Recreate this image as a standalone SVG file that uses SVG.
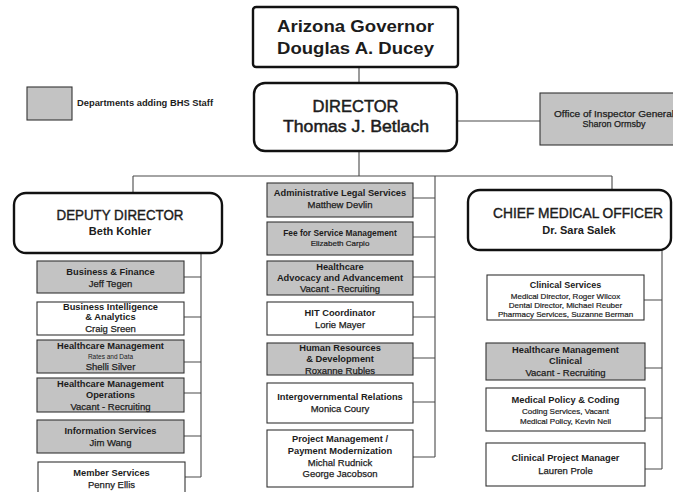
<svg xmlns="http://www.w3.org/2000/svg" width="673" height="492" viewBox="0 0 673 492">
<style>
text{font-family:"Liberation Sans",Arial,sans-serif;fill:#1c1c1c;text-anchor:middle;dominant-baseline:central}
.b{font-weight:bold}
.t{font-size:9.3px;font-weight:bold}
.n{font-size:9.5px;stroke:#1c1c1c;stroke-width:0.25}
.s{font-size:8px;stroke:#1c1c1c;stroke-width:0.2}
.h{stroke:#1c1c1c;stroke-width:0.5}
.box{fill:#fff;stroke:#333;stroke-width:1.1}
.g{fill:#c3c3c3;stroke:#333;stroke-width:1.1}
.big{fill:#fff;stroke:#111;stroke-width:2.4}
.c{fill:none;stroke:#4a4a4a;stroke-width:1.1}
</style>
<rect width="673" height="492" fill="#fff"/>
<g id="connectors">
<path class="c" d="M359 67V83M359 151V176M133 176H612M133 176V193M612 176V190M457 121H540"/>
<path class="c" d="M201 253V477M184 277H201M184 317H201M184 362H201M184 393H201M184 436H201M185 477H201"/>
<path class="c" d="M435 176V457M413 198H435M413 237H435M413 277H435M413 317H435M413 358H435M413 402H435M413 457H435"/>
<path class="c" d="M662 250V469M644 300H662M645 368H662M645 418H662M645 469H662"/>
</g>
<g id="legend">
<rect class="g" x="27" y="87" width="45" height="33"/>
<text x="77" y="103" class="b" style="font-size:9px;text-anchor:start" textLength="136" lengthAdjust="spacingAndGlyphs">Departments adding BHS Staff</text>
</g>
<g id="governor">
<rect class="big" x="253" y="7" width="205" height="60" rx="3"/>
<text x="355.5" y="26" class="b" style="font-size:17px" textLength="157" lengthAdjust="spacingAndGlyphs">Arizona Governor</text>
<text x="355.5" y="48" class="b" style="font-size:17px" textLength="157" lengthAdjust="spacingAndGlyphs">Douglas A. Ducey</text>
</g>
<g id="director">
<rect class="big" x="254" y="83" width="203" height="68" rx="11"/>
<text x="355.5" y="106" class="h" style="font-size:17px" textLength="86" lengthAdjust="spacingAndGlyphs">DIRECTOR</text>
<text x="356" y="126" class="h" style="font-size:17px" textLength="146" lengthAdjust="spacingAndGlyphs">Thomas J. Betlach</text>
</g>
<g id="oig">
<rect class="g" x="540" y="93" width="150" height="52"/>
<text x="614" y="113" class="n" style="font-size:9.5px" textLength="120" lengthAdjust="spacingAndGlyphs">Office of Inspector General</text>
<text x="614" y="124" class="n" style="font-size:9px">Sharon Ormsby</text>
</g>
<g id="deputy">
<rect class="big" x="14" y="193" width="208" height="60" rx="12"/>
<text x="120" y="215" class="h" style="font-size:14px;stroke-width:0.4" textLength="127" lengthAdjust="spacingAndGlyphs">DEPUTY DIRECTOR</text>
<text x="120" y="231" class="b" style="font-size:11px">Beth Kohler</text>
</g>
<g id="cmo">
<rect class="big" x="468" y="190" width="203" height="60" rx="12"/>
<text x="578" y="213" class="h" style="font-size:14px;stroke-width:0.4" textLength="170" lengthAdjust="spacingAndGlyphs">CHIEF MEDICAL OFFICER</text>
<text x="579" y="230" class="b" style="font-size:11px">Dr. Sara Salek</text>
</g>
<g id="business-finance">
<rect class="g" x="37" y="261" width="147" height="32"/>
<text x="110.5" y="272" class="t">Business &amp; Finance</text>
<text x="110.5" y="283" class="n">Jeff Tegen</text>
</g>
<g id="business-intelligence">
<rect class="box" x="37" y="302" width="147" height="33"/>
<text x="110.5" y="307" class="t">Business Intelligence</text>
<text x="110.5" y="317" class="t">&amp; Analytics</text>
<text x="110.5" y="328" class="n">Craig Sreen</text>
</g>
<g id="hm-rates">
<rect class="g" x="37" y="340" width="147" height="33"/>
<text x="110.5" y="346" class="t">Healthcare Management</text>
<text x="110.5" y="356.5" style="font-size:6.5px">Rates and Data</text>
<text x="110.5" y="366" class="n">Shelli Silver</text>
</g>
<g id="hm-operations">
<rect class="g" x="37" y="378" width="147" height="34"/>
<text x="110.5" y="384" class="t">Healthcare Management</text>
<text x="110.5" y="395" class="t">Operations</text>
<text x="110.5" y="406" class="n">Vacant - Recruiting</text>
</g>
<g id="information-services">
<rect class="g" x="37" y="420" width="147" height="33"/>
<text x="110.5" y="431" class="t">Information Services</text>
<text x="110.5" y="442" class="n">Jim Wang</text>
</g>
<g id="member-services">
<rect class="box" x="38" y="462" width="147" height="40"/>
<text x="111.5" y="473" class="t">Member Services</text>
<text x="111.5" y="484" class="n">Penny Ellis</text>
</g>
<g id="admin-legal">
<rect class="g" x="267" y="183" width="146" height="34"/>
<text x="340" y="193" class="t">Administrative Legal Services</text>
<text x="340" y="204" class="n">Matthew Devlin</text>
</g>
<g id="ffs">
<rect class="g" x="267" y="222" width="146" height="33"/>
<text x="340" y="233" class="b" style="font-size:8.4px">Fee for Service Management</text>
<text x="340" y="243" class="s">Elizabeth Carpio</text>
</g>
<g id="hc-advocacy">
<rect class="g" x="267" y="261" width="146" height="34"/>
<text x="340" y="267" class="t">Healthcare</text>
<text x="340" y="278" class="t">Advocacy and Advancement</text>
<text x="340" y="288" class="n">Vacant - Recruiting</text>
</g>
<g id="hit">
<rect class="box" x="267" y="302" width="146" height="33"/>
<text x="340" y="313" class="t">HIT Coordinator</text>
<text x="340" y="324" class="n">Lorie Mayer</text>
</g>
<g id="hr">
<rect class="g" x="267" y="343" width="146" height="32"/>
<text x="340" y="348" class="t">Human Resources</text>
<text x="340" y="359" class="t">&amp; Development</text>
<text x="340" y="370" class="n">Roxanne Rubles</text>
</g>
<g id="intergov">
<rect class="box" x="267" y="383" width="146" height="40"/>
<text x="340" y="397" class="t">Intergovernmental Relations</text>
<text x="340" y="408" class="n">Monica Coury</text>
</g>
<g id="project-management">
<rect class="box" x="267" y="430" width="146" height="57"/>
<text x="340" y="439" class="t">Project Management /</text>
<text x="340" y="451" class="t">Payment Modernization</text>
<text x="340" y="462" class="n">Michal Rudnick</text>
<text x="340" y="473" class="n">George Jacobson</text>
</g>
<g id="clinical-services">
<rect class="box" x="487" y="275" width="157" height="45"/>
<text x="565.5" y="285" class="b" style="font-size:9px">Clinical Services</text>
<text x="565.5" y="296" class="s">Medical Director, Roger Wilcox</text>
<text x="565.5" y="305" class="s">Dental Director, Michael Reuber</text>
<text x="565.5" y="314" class="s">Pharmacy Services, Suzanne Berman</text>
</g>
<g id="hm-clinical">
<rect class="g" x="486" y="343" width="159" height="37"/>
<text x="565.5" y="350" class="t">Healthcare Management</text>
<text x="565.5" y="361" class="t">Clinical</text>
<text x="565.5" y="372" class="n">Vacant - Recruiting</text>
</g>
<g id="medical-policy">
<rect class="box" x="486" y="388" width="159" height="43"/>
<text x="565.5" y="400" class="t">Medical Policy &amp; Coding</text>
<text x="565.5" y="411" class="s">Coding Services, Vacant</text>
<text x="565.5" y="421" class="s">Medical Policy, Kevin Neil</text>
</g>
<g id="clinical-pm">
<rect class="box" x="486" y="443" width="159" height="43"/>
<text x="565.5" y="458" class="t">Clinical Project Manager</text>
<text x="565.5" y="470" class="n">Lauren Prole</text>
</g>
</svg>
